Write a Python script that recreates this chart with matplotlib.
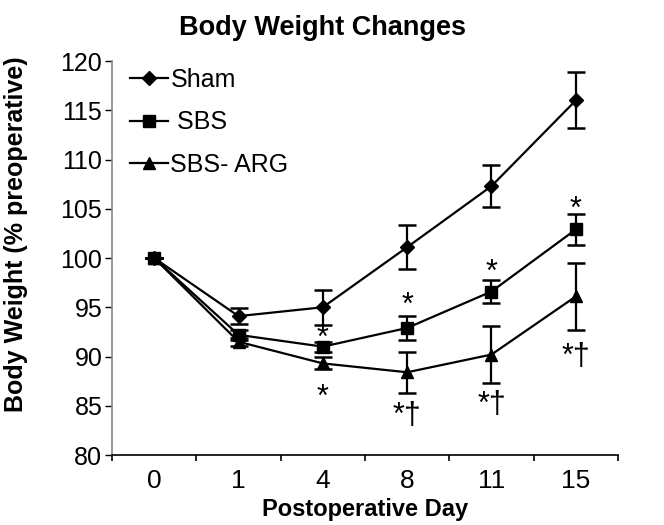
import numpy as np
import matplotlib.pyplot as plt
from matplotlib.lines import Line2D

plt.rcParams['font.family'] = ['Liberation Sans', 'DejaVu Sans']

# dados
days = ['0', '1', '4', '8', '11', '15']
sham = [100, 94.1, 95.0, 101.1, 107.3, 116.0]
sham_err = [0, 0.8, 1.75, 2.25, 2.1, 2.85]
sbs = [100, 92.2, 91.0, 92.9, 96.6, 102.9]
sbs_err = [0, 0.5, 0.5, 1.25, 1.2, 1.6]
arg = [100, 91.5, 89.3, 88.4, 90.2, 96.1]
arg_err = [0, 0.4, 0.6, 2.1, 2.9, 3.4]

# marcas de significancia (indice do dia, y, texto)
marks_idx = [2, 2, 3, 3, 4, 4, 5, 5]
marks_y = [91.8, 85.8, 95.1, 84.0, 98.5, 85.1, 104.9, 90.0]
marks_txt = ['*', '*', '*', '*†', '*', '*†', '*', '*†']

fig = plt.figure(figsize=(6.64, 5.25), dpi=100)
ax = fig.add_axes([0.1687, 0.1333, 0.762, 0.7505])

x = np.arange(len(days))
eb = dict(color='black', lw=1.6, capsize=6.5, capthick=1.8, elinewidth=1.6)
ax.errorbar(x, sham, yerr=sham_err, marker='D', ms=7.5, **eb)
ax.errorbar(x, sbs, yerr=sbs_err, marker='s', ms=8, **eb)
ax.errorbar(x, arg, yerr=arg_err, marker='^', ms=9, **eb)

for i, yv, t in zip(marks_idx, marks_y, marks_txt):
    ax.text(x[i], yv, t, ha='center', va='center', fontsize=22)

ax.set_ylim(80, 120)
ax.set_xlim(-0.5, 5.5)
ax.set_yticks(range(80, 121, 5))
ax.set_xticks(np.arange(-0.5, 6, 1))
ax.set_xticklabels([])
ax.set_xticks(x, minor=True)
ax.set_xticklabels(days, minor=True)
ax.tick_params(axis='x', which='minor', length=0, pad=10, labelsize=19)
ax.tick_params(axis='x', which='major', length=4, width=1.2, direction='out')
ax.tick_params(axis='y', length=5, width=1, labelsize=18, pad=2)
ax.spines['top'].set_visible(False)
ax.spines['right'].set_visible(False)
ax.spines['left'].set_color('#888888')
ax.spines['left'].set_linewidth(1.2)
ax.spines['bottom'].set_linewidth(1.2)

ax.set_xlabel('Postoperative Day', fontsize=17, fontweight='bold', labelpad=4)
ax.set_ylabel('Body Weight (% preoperative)', fontsize=18, fontweight='bold')
ax.yaxis.set_label_coords(-0.166, 0.561)
fig.text(0.485, 0.947, 'Body Weight Changes', ha='center', va='center',
         fontsize=19.5, fontweight='bold')

handles = [Line2D([], [], color='black', lw=1.6, marker=m, ms=s)
           for m, s in [('D', 7.5), ('s', 8), ('^', 9)]]
ax.legend(handles, ['Sham', ' SBS', 'SBS- ARG'], loc='upper left',
          bbox_to_anchor=(-0.008, 1.04), frameon=False, fontsize=18,
          handlelength=1.5, handletextpad=0.1, labelspacing=0.75)

fig.savefig('out.png', dpi=100)
